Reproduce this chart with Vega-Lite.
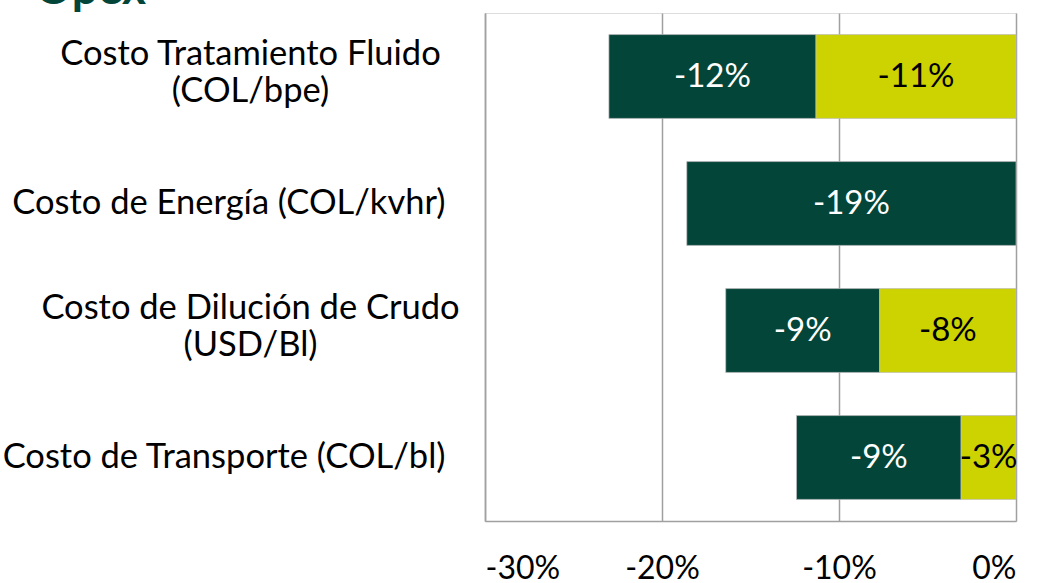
{
  "$schema": "https://vega.github.io/schema/vega-lite/v6.json",
  "width": 531,
  "height": 508,
  "autosize": {"type": "none"},
  "padding": {"left": 485, "top": 13, "right": 27, "bottom": 62},
  "background": "white",
  "title": {"text": "Opex", "anchor": "start", "frame": "group", "dx": -450, "dy": 38, "offset": 1, "baseline": "alphabetic", "fontSize": 46, "font": "Lato", "fontWeight": "bold", "color": "#044539"},
  "data": {"values": [
    {"costo": "Costo Tratamiento Fluido|(COL/bpe)", "serie": "Serie 1", "valor": -0.117},
    {"costo": "Costo Tratamiento Fluido|(COL/bpe)", "serie": "Serie 2", "valor": -0.113},
    {"costo": "Costo de Energía (COL/kvhr)", "serie": "Serie 1", "valor": -0.186},
    {"costo": "Costo de Dilución de Crudo|(USD/Bl)", "serie": "Serie 1", "valor": -0.087},
    {"costo": "Costo de Dilución de Crudo|(USD/Bl)", "serie": "Serie 2", "valor": -0.077},
    {"costo": "Costo de Transporte (COL/bl)", "serie": "Serie 1", "valor": -0.093},
    {"costo": "Costo de Transporte (COL/bl)", "serie": "Serie 2", "valor": -0.031}
  ]},
  "transform": [
    {"stack": "valor", "groupby": ["costo"], "sort": [{"field": "serie", "order": "descending"}], "as": ["v0", "v1"]},
    {"calculate": "(datum.v0 + datum.v1) / 2", "as": "medio"},
    {"calculate": "replace(format(datum.valor, '.0%'), '\u2212', '-')", "as": "etiqueta"}
  ],
  "encoding": {
    "y": {
      "field": "costo", "type": "nominal", "sort": null, "title": null,
      "scale": {"paddingInner": 0.34, "paddingOuter": 0.17},
      "axis": {
        "labelExpr": "split(datum.label, '|')",
        "labelAlign": {"condition": {"test": "indexof(datum.value, '|') >= 0", "value": "center"}, "value": "right"},
        "labelBaseline": {"condition": {"test": "indexof(datum.value, '|') >= 0", "value": "line-bottom"}, "value": "middle"},
        "labelPadding": {"condition": {"test": "indexof(datum.value, '|') >= 0", "value": 235}, "value": 40},
        "labelOffset": {"condition": {"test": "indexof(datum.value, '|') >= 0", "value": -4}, "value": 0},
        "labelFont": "Lato", "labelFontSize": 34.5, "labelColor": "#000000", "labelLineHeight": 37, "labelLimit": 600,
        "ticks": false, "domain": true, "domainColor": "#a0a0a0", "domainWidth": 1.5, "grid": false
      }
    }
  },
  "layer": [
    {
      "mark": {"type": "bar", "stroke": "#bdbdbd", "strokeWidth": 0.7},
      "encoding": {
        "x": {
          "field": "v0", "type": "quantitative", "title": null,
          "scale": {"domain": [-0.3, 0], "nice": false},
          "axis": {
            "values": [-0.3, -0.2, -0.1, 0], "format": ".0%",
            "labelExpr": "replace(datum.label, '\u2212', '-')",
            "labelFont": "Lato", "labelFontSize": 32, "labelColor": "#000000",
            "labelBaseline": "alphabetic", "labelPadding": 57,
            "ticks": false, "domain": true, "domainColor": "#a0a0a0", "domainWidth": 1.5,
            "grid": true, "gridColor": "#a0a0a0", "gridWidth": 1.5
          }
        },
        "x2": {"field": "v1"},
        "color": {"field": "serie", "type": "nominal", "legend": null,
          "scale": {"domain": ["Serie 1", "Serie 2"], "range": ["#044539", "#CCD300"]}}
      }
    },
    {
      "mark": {"type": "text", "font": "Lato", "fontSize": 33, "baseline": "middle", "align": "center"},
      "encoding": {
        "x": {"field": "medio", "type": "quantitative"},
        "text": {"field": "etiqueta", "type": "nominal"},
        "color": {"condition": {"test": "datum.serie === 'Serie 1'", "value": "#ffffff"}, "value": "#000000"}
      }
    }
  ]
}
